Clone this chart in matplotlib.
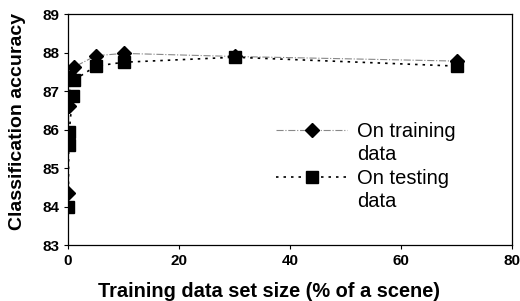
import matplotlib
matplotlib.use("Agg")
from matplotlib import pyplot as plt
from matplotlib.lines import Line2D

plt.rcParams['font.family'] = ['Liberation Sans', 'DejaVu Sans']

# training data points (diamonds)
train_x = [0.05, 0.1, 0.5, 1, 5, 10, 30, 70]
train_y = [84.35, 86.6, 87.4, 87.62, 87.92, 87.98, 87.9, 87.78]
# testing data points (squares)
test_x = [0.05, 0.1, 0.2, 0.8, 1, 5, 10, 30, 70]
test_y = [84.0, 85.6, 85.95, 86.87, 87.28, 87.65, 87.75, 87.88, 87.65]

fig = plt.figure(figsize=(5.2, 3.01), dpi=100)
ax = fig.add_axes([0.131, 0.186, 0.854, 0.767])

l1, = ax.plot(train_x, train_y, color="#888888", lw=0.8, ls="-.", marker="D",
              ms=7, mfc="black", mec="black")
l2, = ax.plot(test_x, test_y, color="black", lw=1.2, ls=(0, (1.5, 3)), marker="s",
              ms=8, mfc="black", mec="black")

ax.set_xlim(0, 80)
ax.set_ylim(83, 89)
ax.set_xticks([0, 20, 40, 60, 80])
ax.set_yticks([83, 84, 85, 86, 87, 88, 89])
ax.tick_params(labelsize=11, length=3, width=0.8)
for t in ax.get_xticklabels() + ax.get_yticklabels():
    t.set_fontweight("bold")
for s in ax.spines.values():
    s.set_linewidth(0.9)

ax.set_xlabel("Training data set size (% of a scene)", fontsize=14.4, fontweight="bold")
ax.set_ylabel("Classification accuracy", fontsize=14, fontweight="bold")
ax.xaxis.set_label_coords(0.453, -0.16)
ax.yaxis.set_label_coords(-0.094, 0.535)

# wrapped legend labels, marker next to the first line as in the original
blank = Line2D([], [], color="none")
ax.legend([l1, blank, l2, blank], ["On training", "data", "On testing", "data"],
          loc="upper left", bbox_to_anchor=(0.46, 0.55), frameon=False,
          fontsize=14.5, handlelength=3.5, handletextpad=0.5, labelspacing=0.22,
          borderaxespad=0, borderpad=0.2)

fig.savefig("out.png", dpi=100)
